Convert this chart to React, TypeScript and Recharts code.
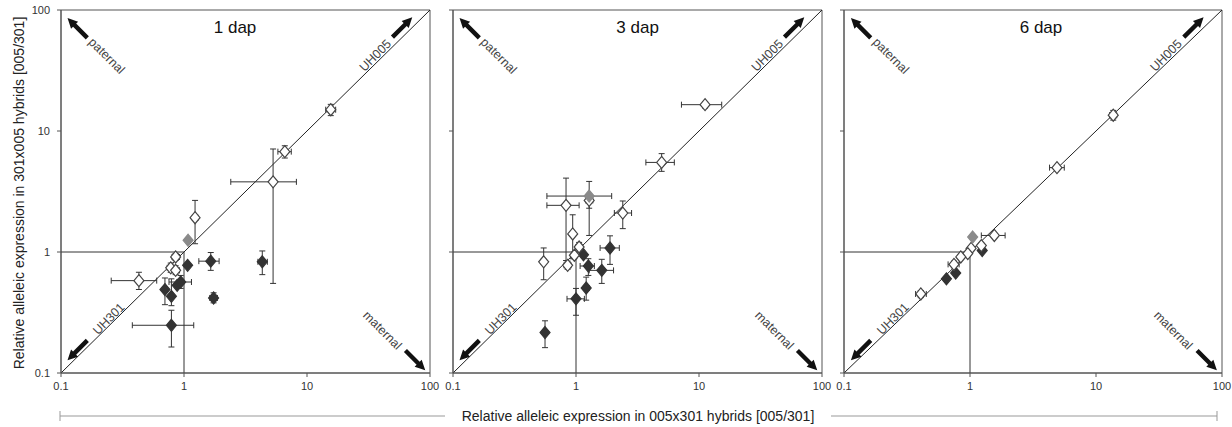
import React from "react";
import {
  ScatterChart,
  Scatter,
  XAxis,
  YAxis,
  ErrorBar,
  ReferenceLine,
  ReferenceArea,
  ReferenceDot,
} from "recharts";

// each point: [x, y, xLow, xHigh, yLow, yHigh]  (bounds optional)
type Pt = number[];

const axisTicks = [0.1, 1, 10, 100];
const panelTitles = ["1 dap", "3 dap", "6 dap"];

const dap1Open: Pt[] = [
  [15.6, 15.0, 14.2, 17.1, 13.4, 16.6],
  [6.6, 6.75, 5.8, 7.45, 5.98, 7.55],
  [5.3, 3.8, 2.4, 8.2, 0.55, 7.1],
  [1.23, 1.92, 1.17, 1.3, 1.17, 2.67],
  [0.855, 0.91, 0.8, 0.92, 0.85, 0.97],
  [0.78, 0.74, 0.73, 0.84, 0.68, 0.81],
  [0.855, 0.705, 0.8, 0.92, 0.65, 0.77],
  [0.43, 0.58, 0.256, 0.6, 0.49, 0.68],
];
const dap1Filled: Pt[] = [
  [1.07, 0.776],
  [1.65, 0.84, 1.32, 1.93, 0.705, 0.99],
  [4.33, 0.83, 3.99, 4.76, 0.65, 1.02],
  [1.74, 0.417, 1.62, 1.87, 0.38, 0.46],
  [0.7, 0.489, 0.67, 0.73, 0.367, 0.61],
  [0.79, 0.43, 0.76, 0.82, 0.36, 0.6],
  [0.88, 0.53],
  [0.94, 0.565, 0.755, 1.15, 0.5, 0.64],
  [0.79, 0.248, 0.38, 1.2, 0.164, 0.33],
];
const dap1Grey: Pt[] = [[1.08, 1.25]];

const dap3Open: Pt[] = [
  [11.2, 16.5, 7.2, 15.3, 15.5, 17.5],
  [4.97, 5.5, 3.7, 6.3, 4.64, 6.5],
  [2.4, 2.1, 2.05, 2.83, 1.56, 2.64],
  [0.83, 2.43, 0.58, 1.06, 0.85, 4.08],
  [1.28, 2.67, 1.2, 1.37, 1.37, 3.0],
  [0.94, 1.41, 0.9, 0.98, 0.88, 2.03],
  [0.546, 0.83, 0.52, 0.57, 0.59, 1.08],
  [0.855, 0.776, 0.8, 0.91, 0.72, 0.84],
  [1.06, 1.1, 1.0, 1.12, 1.0, 1.2],
  [0.97, 0.94, 0.93, 1.01, 0.88, 1.0],
];
const dap3Filled: Pt[] = [
  [1.15, 0.95],
  [1.89, 1.08, 1.57, 2.25, 0.79, 1.36],
  [1.26, 0.766, 1.08, 1.41, 0.64, 0.88],
  [1.62, 0.705, 1.28, 2.02, 0.55, 0.87],
  [1.21, 0.504, 1.15, 1.28, 0.4, 0.62],
  [1.0, 0.41, 0.845, 1.17, 0.3, 0.5],
  [0.56, 0.216, 0.54, 0.58, 0.162, 0.27],
];
const dap3Grey: Pt[] = [[1.28, 2.9, 0.58, 1.95, 2.3, 3.83]];

const dap6Open: Pt[] = [
  [13.7, 13.5, 12.8, 14.6, 12.3, 14.8],
  [4.9, 4.98, 4.28, 5.6, 4.8, 5.2],
  [1.56, 1.37, 1.23, 1.9, 1.32, 1.42],
  [1.23, 1.13, 1.18, 1.28, 1.08, 1.18],
  [1.02, 1.07, 0.98, 1.06, 1.03, 1.11],
  [0.96, 0.97, 0.92, 1.0, 0.93, 1.01],
  [0.845, 0.91, 0.81, 0.88, 0.87, 0.95],
  [0.746, 0.79, 0.67, 0.82, 0.74, 0.84],
  [0.407, 0.45, 0.37, 0.45, 0.42, 0.48],
];
const dap6Filled: Pt[] = [
  [1.25, 1.03],
  [0.77, 0.67],
  [0.65, 0.6],
];
const dap6Grey: Pt[] = [[1.05, 1.33]];

const toRows = (pts: Pt[]) =>
  pts.map((p) => {
    const [x, y, xl, xh, yl, yh] = p;
    const hasErr = p.length > 2;
    return {
      x,
      y,
      ex: hasErr ? [x - xl, xh - x] : null,
      ey: hasErr ? [y - yl, yh - y] : null,
    };
  });

const diamond = (fill: string, stroke: string) => (props: any) => {
  const { cx, cy } = props;
  return (
    <path
      d={`M${cx} ${cy - 6} L${cx + 5} ${cy} L${cx} ${cy + 6} L${cx - 5} ${cy} Z`}
      fill={fill}
      stroke={stroke}
      strokeWidth={1.2}
    />
  );
};

const arrow = (angle: number) => (p: any) => (
  <g transform={`translate(${p.cx},${p.cy}) rotate(${angle})`}>
    <polygon points="-14,-2.2 4,-2.2 4,-5 14,0 4,5 4,2.2 -14,2.2" fill="#111" />
  </g>
);

const rotText = (text: string, angle: number, size: number, color: string) => (p: any) => (
  <text
    x={p.cx}
    y={p.cy}
    transform={`rotate(${angle} ${p.cx} ${p.cy})`}
    textAnchor="middle"
    dominantBaseline="central"
    fontSize={size}
    fill={color}
  >
    {text}
  </text>
);

const panels = [
  { open: dap1Open, filled: dap1Filled, grey: dap1Grey, left: 0, yw: 61, width: 440, titleX: 2.6, labels: true },
  { open: dap3Open, filled: dap3Filled, grey: dap3Grey, left: 442, yw: 11, width: 390, titleX: 3.17, labels: false },
  { open: dap6Open, filled: dap6Filled, grey: dap6Grey, left: 832, yw: 12, width: 400, titleX: 3.66, labels: false },
];

const errColor = "#333";
const noteColor = "#444";

function Panel(props: any) {
  const { cfg, title } = props;
  return (
    <div style={{ position: "absolute", left: cfg.left, top: 0 }}>
      <ScatterChart
        width={cfg.width}
        height={400}
        margin={{ top: 10, right: 10, bottom: 0, left: 0 }}>
        <XAxis
          type="number"
          dataKey="x"
          scale="log"
          domain={[0.1, 100]}
          ticks={axisTicks}
          allowDataOverflow
          height={27}
          tickSize={4}
          tickMargin={5}
          tick={{ fontSize: 11, fill: "#333" }}
          stroke="#555"
        />
        <YAxis
          type="number"
          dataKey="y"
          scale="log"
          domain={[0.1, 100]}
          ticks={axisTicks}
          allowDataOverflow
          width={cfg.yw}
          tickSize={4}
          tickMargin={7}
          tick={{ fontSize: 11, fill: "#333" }}
          tickFormatter={(v: number) => (cfg.labels ? String(v) : "")}
          stroke="#555"
        />
        <ReferenceArea x1={0.1} x2={100} y1={0.1} y2={100} fill="none" stroke="#555" strokeWidth={1} />
        <ReferenceLine segment={[{ x: 0.1, y: 0.1 }, { x: 100, y: 100 }]} stroke="#222" strokeWidth={1} />
        <ReferenceLine segment={[{ x: 0.1, y: 1 }, { x: 1, y: 1 }]} stroke="#333" strokeWidth={1} />
        <ReferenceLine segment={[{ x: 1, y: 0.1 }, { x: 1, y: 1 }]} stroke="#333" strokeWidth={1} />

        <ReferenceDot x={0.136} y={71} shape={arrow(-135)} />
        <ReferenceDot x={59.6} y={72} shape={arrow(-45)} />
        <ReferenceDot x={0.136} y={0.154} shape={arrow(135)} />
        <ReferenceDot x={76} y={0.127} shape={arrow(45)} />
        <ReferenceDot x={0.235} y={41.7} shape={rotText("paternal", 45, 12.5, noteColor)} />
        <ReferenceDot x={41} y={0.225} shape={rotText("maternal", 45, 12.5, noteColor)} />
        <ReferenceDot x={36} y={42} shape={rotText("UH005", -45, 12.5, noteColor)} />
        <ReferenceDot x={0.245} y={0.28} shape={rotText("UH301", -45, 12.5, noteColor)} />
        <ReferenceDot x={cfg.titleX} y={72} shape={rotText(title, 0, 17, "#111")} />

        <Scatter data={toRows(cfg.filled)} shape={diamond("#333", "#333")} isAnimationActive={false}>
          <ErrorBar dataKey="ex" direction="x" width={3} stroke={errColor} strokeWidth={1} />
          <ErrorBar dataKey="ey" direction="y" width={3} stroke={errColor} strokeWidth={1} />
        </Scatter>
        <Scatter data={toRows(cfg.open)} shape={diamond("#fff", "#444")} isAnimationActive={false}>
          <ErrorBar dataKey="ex" direction="x" width={3} stroke={errColor} strokeWidth={1} />
          <ErrorBar dataKey="ey" direction="y" width={3} stroke={errColor} strokeWidth={1} />
        </Scatter>
        <Scatter data={toRows(cfg.grey)} shape={diamond("#8a8a8a", "#8a8a8a")} isAnimationActive={false}>
          <ErrorBar dataKey="ex" direction="x" width={3} stroke={errColor} strokeWidth={1} />
          <ErrorBar dataKey="ey" direction="y" width={3} stroke={errColor} strokeWidth={1} />
        </Scatter>
      </ScatterChart>
    </div>
  );
}

export default function App() {
  return (
    <div
      style={{
        position: "absolute",
        left: 0,
        top: 0,
        width: 1232,
        height: 427,
        overflow: "hidden",
        background: "#fff",
        fontFamily: '"Liberation Sans", Arial, sans-serif',
      }}>
      {panels.map((cfg, i) => (
        <Panel key={i} cfg={cfg} title={panelTitles[i]} />
      ))}
      <div
        style={{
          position: "absolute",
          left: 19,
          top: 193,
          transform: "translate(-50%,-50%) rotate(-90deg)",
          whiteSpace: "nowrap",
          fontSize: 14,
          color: "#222",
        }}>
        Relative alleleic expression in 301x005 hybrids [005/301]
      </div>
      <svg width={1232} height={427} style={{ position: "absolute", left: 0, top: 0, pointerEvents: "none" }}>
        <line x1={60} y1={416} x2={445} y2={416} stroke="#999" strokeWidth={1} />
        <line x1={831} y1={416} x2={1217} y2={416} stroke="#999" strokeWidth={1} />
        <line x1={60} y1={411} x2={60} y2={421} stroke="#999" strokeWidth={1} />
        <line x1={1217} y1={411} x2={1217} y2={421} stroke="#999" strokeWidth={1} />
        <text x={638} y={416} textAnchor="middle" dominantBaseline="central" fontSize={14} fill="#222">
          Relative alleleic expression in 005x301 hybrids [005/301]
        </text>
      </svg>
    </div>
  );
}
